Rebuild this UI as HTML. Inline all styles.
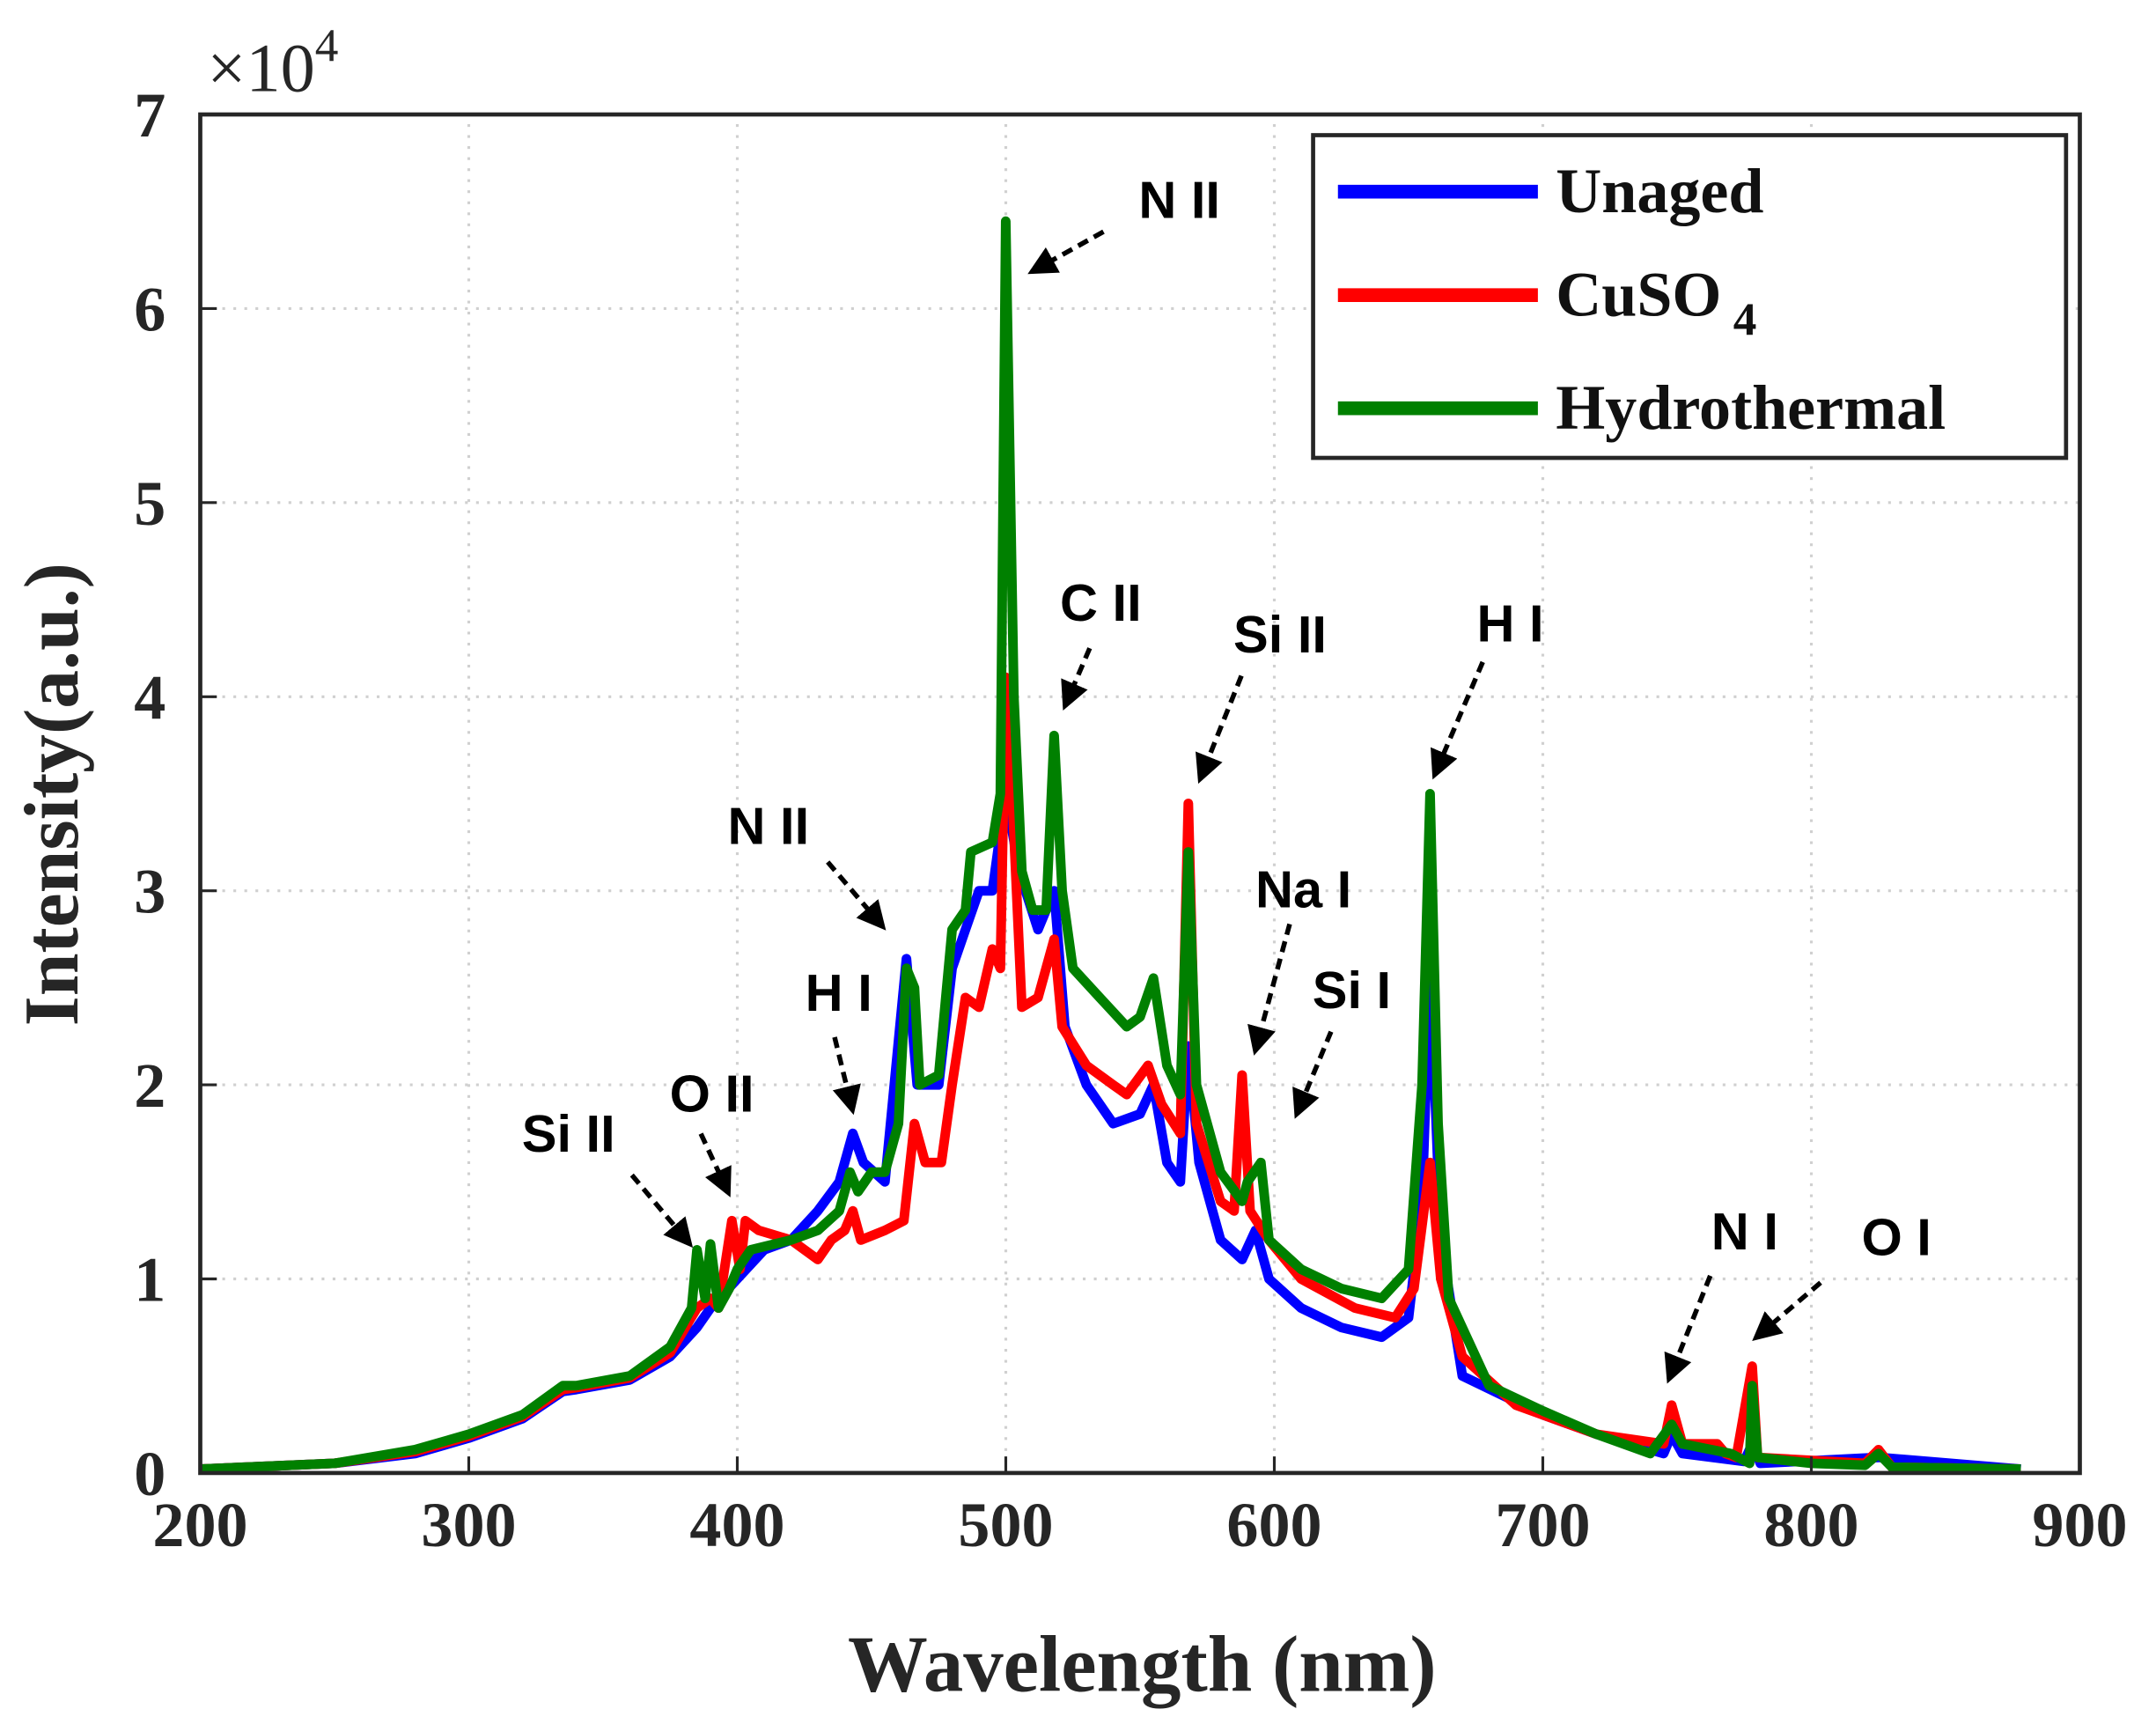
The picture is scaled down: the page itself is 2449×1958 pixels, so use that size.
<!DOCTYPE html>
<html><head><meta charset="utf-8"><style>
html,body{margin:0;padding:0;background:#fff;}
svg{display:block;}
</style></head><body>
<svg id="chart" width="2449" height="1958" viewBox="0 0 1563 1250" xmlns="http://www.w3.org/2000/svg">
<rect x="0" y="0" width="1563" height="1250" fill="#fff"/>
<g id="grid"></g>
<g id="series"></g>
<rect x="145" y="83" width="1363" height="985" fill="none" stroke="#262626" stroke-width="3"/>
<g id="ticks"></g>
<text x="150" y="66" font-family="Liberation Serif, serif" font-size="50" fill="#262626">×10<tspan dy="-22" font-size="34">4</tspan></text>
<text x="828" y="1226" text-anchor="middle" font-family="Liberation Serif, serif" font-weight="bold" font-size="58" fill="#262626">Wavelength (nm)</text>
<text transform="translate(56,576) rotate(-90)" text-anchor="middle" font-family="Liberation Serif, serif" font-weight="bold" font-size="56" fill="#262626">Intensity(a.u.)</text>
<g id="annotations"></g>
<g>
<rect x="952" y="98" width="546" height="234" fill="#fff" stroke="#262626" stroke-width="3"/>
<line x1="970" y1="139" x2="1115" y2="139" stroke="#0000ff" stroke-width="10"/>
<text x="1128" y="154" font-family="Liberation Serif, serif" font-weight="bold" font-size="46" fill="#111">Unaged</text>
<line x1="970" y1="214" x2="1115" y2="214" stroke="#ff0000" stroke-width="10"/>
<text x="1128" y="229" font-family="Liberation Serif, serif" font-weight="bold" font-size="46" fill="#111">CuSO<tspan dy="14" font-size="34"> 4</tspan></text>
<line x1="970" y1="296" x2="1115" y2="296" stroke="#008000" stroke-width="10"/>
<text x="1128" y="311" font-family="Liberation Serif, serif" font-weight="bold" font-size="46" fill="#111">Hydrothermal</text>
</g>
</svg>
<script>
const xTicks=[200,300,400,500,600,700,800,900];
const yTicks=[0,1,2,3,4,5,6,7];
const unagedX=[200,250,280,300,320,335,340,360,375,385,390,400,410,420,430,438,443,447,455,463,467,475,480,485,490,495,500,505,512,518,522,530,540,550,555,560,565,568,572,580,588,593,598,610,625,640,650,655,658,662,670,700,720,745,748,752,775,778,781,825,878];
const unagedY=[0.02,0.05,0.1,0.18,0.28,0.42,0.43,0.48,0.6,0.75,0.85,1.0,1.15,1.2,1.35,1.5,1.75,1.6,1.5,2.65,2.0,2.0,2.6,2.8,3.0,3.0,3.5,3.1,2.8,3.0,2.3,2.0,1.8,1.85,2.0,1.6,1.5,2.2,1.6,1.2,1.1,1.25,1.0,0.85,0.75,0.7,0.8,1.4,2.6,1.2,0.5,0.3,0.2,0.1,0.2,0.1,0.06,0.15,0.05,0.08,0.02];
const cusoX=[200,250,280,300,320,335,340,360,375,385,390,393,398,401,403,408,420,430,435,440,443,446,455,462,466,470,476,480,485,490,495,498,500,503,506,512,518,521,530,540,545,553,558,565,568,571,580,585,588,591,598,610,630,645,652,658,662,670,690,720,745,748,752,765,768,772,778,780,820,825,830,878];
const cusoY=[0.02,0.05,0.11,0.19,0.29,0.43,0.44,0.49,0.62,0.85,0.9,0.85,1.3,1.05,1.3,1.25,1.2,1.1,1.2,1.25,1.35,1.2,1.25,1.3,1.8,1.6,1.6,2.0,2.45,2.4,2.7,2.6,4.1,3.3,2.4,2.45,2.75,2.3,2.1,2.0,1.95,2.1,1.9,1.75,3.45,1.8,1.4,1.35,2.05,1.35,1.2,1.0,0.85,0.8,0.95,1.6,1.0,0.6,0.35,0.2,0.15,0.35,0.15,0.15,0.1,0.08,0.55,0.08,0.05,0.12,0.03,0.02];
const hydroX=[200,250,280,300,320,335,340,360,375,383,385,388,390,393,397,400,405,420,430,438,442,445,450,455,460,463,466,468,475,478,480,485,487,495,498,500,503,506,510,515,518,521,525,535,545,550,555,560,565,568,571,580,588,590,595,598,610,625,640,650,655,658,661,665,680,700,720,740,748,752,770,777,778,780,800,820,825,830,878];
const hydroY=[0.02,0.05,0.12,0.2,0.3,0.45,0.45,0.5,0.65,0.85,1.15,0.9,1.18,0.85,0.95,1.05,1.15,1.2,1.25,1.35,1.55,1.45,1.55,1.55,1.8,2.6,2.5,2.0,2.05,2.5,2.8,2.9,3.2,3.25,3.5,6.45,4.0,3.1,2.9,2.9,3.8,3.0,2.6,2.45,2.3,2.35,2.55,2.1,1.95,3.2,2.0,1.55,1.4,1.5,1.6,1.2,1.05,0.95,0.9,1.05,2.0,3.5,1.8,0.9,0.45,0.32,0.2,0.1,0.25,0.15,0.1,0.05,0.45,0.08,0.05,0.04,0.1,0.03,0.02];
const NS='http://www.w3.org/2000/svg';
const X0=145,X1=1508,Y0=1068,Y1=83;
function xs(v){return X0+(v-200)/(900-200)*(X1-X0);}
function ys(v){return Y0-v/7*(Y0-Y1);}
function mk(t,a,p){const e=document.createElementNS(NS,t);for(const k in a)e.setAttribute(k,a[k]);p.appendChild(e);return e;}
const grid=document.getElementById('grid'),ticks=document.getElementById('ticks');
xTicks.forEach(v=>{
 const g=mk('line',{x1:xs(v),x2:xs(v),y1:Y0,y2:Y1,stroke:'#d0d0d0','stroke-width':2,'stroke-dasharray':'2,6'},grid);
 
 
 const t=mk('text',{x:xs(v),y:1121,'text-anchor':'middle','font-family':'Liberation Serif, serif','font-weight':'bold','font-size':46,fill:'#262626'},ticks);
 t.textContent=v;
 
 
 mk('line',{x1:xs(v),x2:xs(v),y1:Y0,y2:Y0-12,stroke:'#262626','stroke-width':2},ticks);
});
yTicks.forEach(v=>{
 const g=mk('line',{x1:X0,x2:X1,y1:ys(v),y2:ys(v),stroke:'#d0d0d0','stroke-width':2,'stroke-dasharray':'2,6'},grid);
 
 
 const t=mk('text',{x:120,y:ys(v)+16,'text-anchor':'end','font-family':'Liberation Serif, serif','font-weight':'bold','font-size':46,fill:'#262626'},ticks);
 t.textContent=v;
 
 
 mk('line',{x1:X0,x2:X0+12,y1:ys(v),y2:ys(v),stroke:'#262626','stroke-width':2},ticks);
});
const ser=document.getElementById('series');
[[unagedX,unagedY,'#0000ff','series-unaged'],[cusoX,cusoY,'#ff0000','series-cuso4'],[hydroX,hydroY,'#008000','series-hydrothermal']].forEach(s=>{
 const d=s[0].map((x,i)=>(i?'L':'M')+xs(x).toFixed(1)+','+ys(s[1][i]).toFixed(1)).join(' ');
 const p=mk('path',{d:d,fill:'none',stroke:s[2],'stroke-width':7,'stroke-linejoin':'round'},ser);
 
 
});
const annLabels=['N II','C II','Si II','H I','N II','Na I','Si I','H I','O II','Si II','N I','O I'];
const annText=[[855,158],[798,450],[928,473],[1095,465],[557,612],[945,658],[980,731],[608,733],[516,806],[412,835],[1265,906],[1375,910]];
const annArrow=[[800,168,748,197],[790,470,772,512],[900,490,870,565],[1075,480,1040,562],[600,625,640,672],[935,670,910,762],[965,748,940,808],[605,752,618,805],[508,822,528,865],[458,852,500,902],[1240,925,1210,1000],[1320,930,1273,970]];
const ann=document.getElementById('annotations');
const defs=mk('defs',{},document.getElementById('chart'));
const mkr=mk('marker',{id:'ah',markerWidth:6,markerHeight:6,refX:5,refY:3,orient:'auto'},defs);
mk('path',{d:'M0,0 L6,3 L0,6 Z',fill:'#000'},mkr);
annLabels.forEach((l,i)=>{
 const t=mk('text',{x:annText[i][0],y:annText[i][1],'text-anchor':'middle','font-family':'Liberation Sans, sans-serif','font-weight':'bold','font-size':38,fill:'#000'},ann);
 t.textContent=l;
 
 
 const a=annArrow[i];
 const ln=mk('line',{x1:a[0],y1:a[1],x2:a[2],y2:a[3],stroke:'#000','stroke-width':3.5,'stroke-dasharray':'8,5','marker-end':'url(#ah)'},ann);
 
 
});
</script>
</body></html>
